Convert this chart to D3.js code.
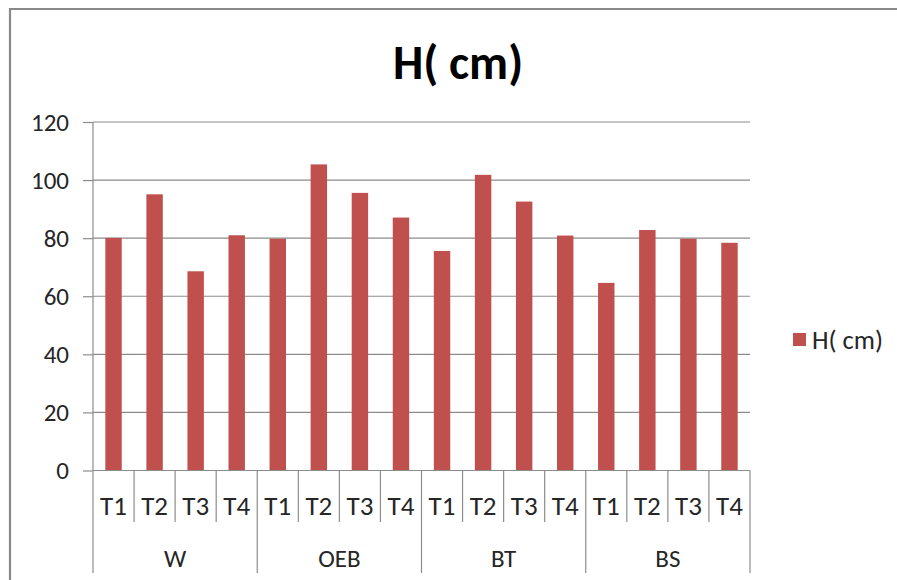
<!DOCTYPE html>
<html>
<head>
<meta charset="utf-8">
<script src="https://cdn.jsdelivr.net/npm/d3@7/dist/d3.min.js"></script>
<style>
  html, body { margin: 0; padding: 0; background: #fff; }
  svg { display: block; }
  text { font-family: Carlito, Calibri, "Open Sans", sans-serif; fill: #262626; }
</style>
</head>
<body>
<svg id="chart" width="897" height="580"></svg>
<script>
// Plant height per treatment within each group
const groups = ["W", "OEB", "BT", "BS"];
const treatments = ["T1", "T2", "T3", "T4"];
const heightW   = [80.1, 95.1, 68.6, 81.0];
const heightOEB = [79.8, 105.4, 95.6, 87.1];
const heightBT  = [75.6, 101.8, 92.6, 80.9];
const heightBS  = [64.6, 82.8, 79.8, 78.4];
const yTicks = [0, 20, 40, 60, 80, 100, 120];
const seriesName = "H( cm)";

const groupValues = [heightW, heightOEB, heightBT, heightBS];
const rows = [];
groups.forEach((g, gi) => treatments.forEach((t, ti) => {
  rows.push({ key: g + "-" + t, group: g, treatment: t, value: groupValues[gi][ti] });
}));

const svg = d3.select("#chart");
const W = 897, H = 580;
const plot = { left: 93, right: 750, top: 122, bottom: 470.5 };
const barColor = "#C0504D";
const lineColor = "#8c8c8c";

// outer chart frame (top and left edges visible)
svg.append("path")
  .attr("d", `M10,${H} L10,9 L${W},9`)
  .attr("fill", "none").attr("stroke", "#888").attr("stroke-width", 2.2);

// title
svg.append("text")
  .attr("x", 458).attr("y", 79)
  .attr("text-anchor", "middle")
  .style("font-size", "48px").style("font-weight", "bold").style("fill", "#000")
  .text(seriesName);

const x = d3.scaleBand().domain(rows.map(d => d.key))
  .range([plot.left, plot.right]).paddingInner(0.6).paddingOuter(0.3);
const slot = d3.scaleBand().domain(rows.map(d => d.key)).range([plot.left, plot.right]);
const y = d3.scaleLinear().domain([0, 120]).range([plot.bottom, plot.top]);

// horizontal gridlines
svg.append("g").selectAll("line").data(yTicks.filter(v => v > 0)).join("line")
  .attr("x1", plot.left).attr("x2", plot.right)
  .attr("y1", d => y(d)).attr("y2", d => y(d))
  .attr("stroke", lineColor).attr("stroke-width", 1.2);

// y axis
const yAxis = svg.append("g")
  .attr("transform", `translate(${plot.left},0)`)
  .call(d3.axisLeft(y).tickValues(yTicks).tickSize(10).tickPadding(14));
yAxis.select(".domain").attr("stroke", lineColor).attr("stroke-width", 1.2)
  .attr("d", `M0,${plot.top}V${plot.bottom}`);
yAxis.selectAll(".tick line").attr("stroke", lineColor).attr("stroke-width", 1.2);
yAxis.selectAll(".tick text").style("font-size", "25px").style("fill", "#262626")
  .attr("font-family", null);

// bars
svg.append("g").selectAll("rect").data(rows).join("rect")
  .attr("x", d => x(d.key)).attr("width", x.bandwidth())
  .attr("y", d => y(d.value)).attr("height", d => y(0) - y(d.value))
  .attr("fill", barColor);

// category axis baseline
svg.append("line")
  .attr("x1", plot.left).attr("x2", plot.right)
  .attr("y1", plot.bottom).attr("y2", plot.bottom)
  .attr("stroke", lineColor).attr("stroke-width", 1.2);

// treatment separators and labels
const subBottom = 522, groupBottom = 573;
const axisG = svg.append("g");
axisG.selectAll("line.sub").data(rows.slice(1)).join("line")
  .attr("class", "sub")
  .attr("x1", d => slot(d.key)).attr("x2", d => slot(d.key))
  .attr("y1", plot.bottom).attr("y2", d => d.treatment === "T1" ? groupBottom : subBottom)
  .attr("stroke", lineColor).attr("stroke-width", 1.2);
[plot.left, plot.right].forEach(px => {
  axisG.append("line").attr("x1", px).attr("x2", px)
    .attr("y1", plot.bottom).attr("y2", groupBottom)
    .attr("stroke", lineColor).attr("stroke-width", 1.2);
});
axisG.selectAll("text.sub").data(rows).join("text")
  .attr("class", "sub")
  .attr("x", d => slot(d.key) + slot.bandwidth() / 2).attr("y", 515)
  .attr("text-anchor", "middle").style("font-size", "27px")
  .text(d => d.treatment);
axisG.selectAll("text.grp").data(groups).join("text")
  .attr("class", "grp")
  .attr("x", g => {
    const first = slot(g + "-" + treatments[0]);
    const last = slot(g + "-" + treatments[treatments.length - 1]) + slot.bandwidth();
    return (first + last) / 2;
  })
  .attr("y", 567)
  .attr("text-anchor", "middle").style("font-size", "25px")
  .text(g => g);

// legend
const legend = svg.append("g").attr("transform", "translate(793,333)");
legend.append("rect").attr("width", 13).attr("height", 13).attr("fill", barColor);
legend.append("text").attr("x", 19).attr("y", 16)
  .style("font-size", "26.5px").text(seriesName);
</script>
</body>
</html>
